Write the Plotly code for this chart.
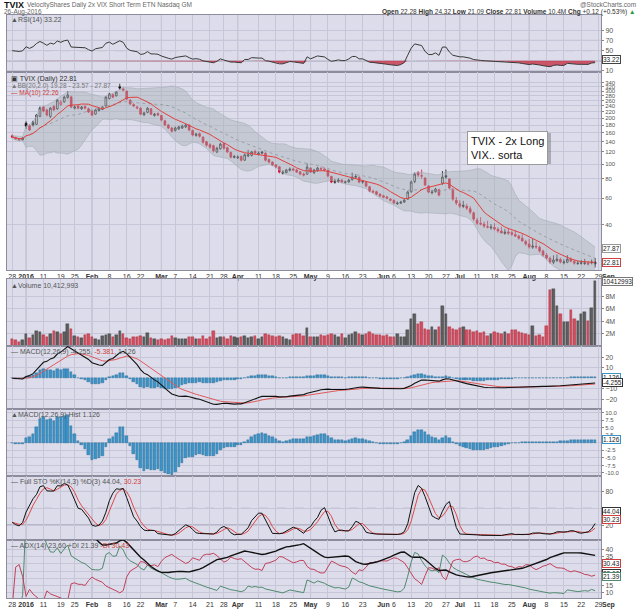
import numpy as np
import pandas as pd
import plotly.graph_objects as go

holidays = ["2016-01-01", "2016-01-18", "2016-02-15", "2016-03-25",
            "2016-05-30", "2016-07-04"]

# daily bars, 28 Dec 2015 .. 26 Aug 2016
opens = [153, 149, 146, 144,
         185, 178, 188, 182, 205, 236, 226, 205, 238, 230,
         245, 255, 272, 275, 232, 240, 230, 238, 230, 222,
         212, 224, 228, 240, 268, 284, 280, 320, 310, 300,
         262, 245, 232, 232, 210, 218, 230, 208, 214, 208,
         192, 180, 172, 166, 170, 172, 175, 180, 166, 154,
         158, 150, 140, 134, 132, 120, 126, 136, 128, 119,
         112, 110, 112, 106, 113, 114, 121, 116, 120, 118,
         107, 103, 99, 96, 87, 88, 91, 93, 91.5, 89,
         86, 86, 94, 88, 91, 93.5, 93, 91, 83, 76,
         77, 78.5, 76, 76.5, 79, 83, 82, 77, 76, 71,
         66.5, 66, 63.5, 62, 61, 59, 58, 55, 55.5, 56.5,
         59, 66, 77, 88, 84, 81, 72, 65, 66, 68,
         75, 84, 80, 68, 58, 55, 53.8, 53, 51, 48,
         43, 41, 40.5, 39, 38.3, 38.5, 37.5, 36.5, 35.2, 36,
         35.6, 34.6, 33.8, 32.8, 31.2, 30, 28.6, 29, 28.6, 27,
         25.4, 24.2, 22.8, 23.4, 23.8, 22.6, 22.8, 23.9, 23.1, 22.4,
         22.6, 22.4, 22.6, 22.9, 22.28]
highs = [156, 151, 148, 150,
         190, 182, 192, 212, 238, 240, 230, 236, 244, 266,
         262, 280, 300, 280, 242, 244, 240, 242, 234, 225,
         230, 233, 240, 278, 292, 290, 300, 335, 318, 302,
         266, 250, 240, 235, 220, 236, 232, 216, 218, 210,
         195, 183, 175, 176, 178, 181, 184, 182, 168, 160,
         161, 152, 142, 137, 134, 130, 138, 138, 130, 121,
         115, 114, 114, 117, 124, 122, 124, 121, 122, 119,
         109, 104, 100, 97, 91, 93, 95, 95, 93, 90,
         88, 101, 95.5, 93, 96, 96, 95, 92, 84, 80,
         81, 80, 78, 80, 88, 86, 83, 78.5, 77, 72,
         68, 67, 64.5, 63, 62, 60, 58.8, 57, 57.5, 59.5,
         67, 78, 88, 90, 92, 82, 73, 68, 70, 69,
         90, 92, 81, 70, 61, 58, 57.5, 55, 53, 49,
         44.5, 45, 42, 42.6, 40.5, 41, 38.6, 39, 37.6, 38.2,
         36.5, 37, 34.6, 35, 32, 32.4, 32.8, 31.2, 29.3, 27.6,
         26.2, 24.8, 25.3, 25.6, 24.4, 23.8, 25.4, 24.6, 23.7, 23.3,
         23.6, 24.0, 23.1, 23.8, 24.32]
lows = [148, 144, 142, 143,
        170, 165, 176, 180, 203, 218, 205, 200, 222, 226,
        240, 252, 268, 232, 228, 228, 226, 228, 216, 206,
        210, 220, 225, 238, 265, 270, 276, 305, 298, 262,
        244, 236, 228, 209, 206, 215, 209, 204, 206, 190,
        177, 169, 161, 163, 167, 170, 172, 164, 152, 151,
        149, 136, 130, 126, 119, 118, 124, 124, 118, 109,
        109, 108, 104, 105, 111, 112, 116, 114, 116, 104,
        101, 97, 94, 87, 85.5, 87, 89.5, 90, 87.5, 84.5,
        83, 85, 87.5, 86, 89, 91, 89.5, 82, 75, 74.5,
        75.5, 75, 74.5, 75.5, 78, 80, 75, 74.5, 70.5, 65.5,
        64.5, 62.5, 60.8, 59.8, 58.9, 57, 54.8, 54.2, 54.8, 55.8,
        58.5, 65, 75, 82, 80, 72, 64.5, 63.5, 65, 61.5,
        73, 80, 68.5, 57.5, 54, 51.5, 51.5, 50, 47, 42.5,
        40, 39.8, 38.2, 38, 37.2, 36.8, 35.6, 35.4, 34.5, 34.4,
        33.9, 33.6, 32, 31.2, 29.3, 28, 27.9, 27.9, 26.4, 24.8,
        23.7, 22.3, 22.2, 22.9, 22.4, 22.1, 22.5, 22.8, 22, 21.9,
        22, 21.9, 21.7, 22.1, 21.09]
closes = [150, 146, 144, 148,
          177, 167, 180, 209, 232, 222, 209, 232, 226, 262,
          254, 274, 283, 236, 236, 232, 236, 232, 219, 209,
          226, 229, 236, 274, 287, 274, 296, 314, 305, 266,
          247, 240, 236, 212, 216, 232, 212, 212, 209, 194,
          180, 172, 164, 172, 175, 177, 180, 167, 155, 157,
          152, 139, 133, 129, 122, 127, 135, 127, 120, 111,
          111, 111, 106, 115, 115, 120, 118, 118, 118, 106,
          103, 98.5, 95.6, 88.6, 88.6, 91.4, 92.7, 91.4, 88.6, 86.0,
          84.7, 95.6, 88.6, 91.4, 94.2, 92.7, 91.4, 83.5, 76.3, 77.4,
          78.6, 76.3, 76.3, 78.6, 82.2, 82.2, 76.3, 76.3, 71.8, 66.6,
          65.6, 63.6, 61.8, 60.8, 59.9, 58.1, 55.6, 55.6, 56.4, 58.1,
          65.6, 76.3, 86.0, 84.7, 83.5, 72.9, 65.6, 65.6, 68.6, 62.7,
          82.2, 82.2, 69.7, 59.0, 55.6, 53.1, 53.1, 51.5, 48.5, 43.7,
          41.1, 40.5, 39.3, 38.7, 38.7, 37.6, 36.5, 35.4, 35.9, 35.4,
          34.8, 33.8, 32.8, 31.4, 30.0, 28.7, 29.1, 28.7, 27.0, 25.4,
          24.3, 22.9, 23.6, 23.9, 22.9, 22.9, 23.9, 23.2, 22.5, 22.5,
          22.5, 22.6, 22.2, 22.69, 22.81]
volume_m = [1.1, 0.9, 0.7, 1.0,
            2.0, 1.3, 1.7, 2.4, 2.2, 1.8, 1.5, 2.0, 2.4, 2.3,
            1.9, 2.3, 3.5, 2.8, 1.6, 1.4, 1.3, 1.8, 1.9, 1.4,
            1.2, 1.0, 1.6, 1.7, 1.9, 1.5, 1.8, 2.4, 1.9, 1.3,
            1.2, 1.4, 1.5, 1.6, 1.5, 2.1, 1.3, 1.2, 1.0, 1.1,
            1.0, 1.2, 1.6, 1.3, 1.1, 1.2, 1.1, 1.5, 1.4, 1.2,
            1.1, 1.6, 1.2, 1.4, 2.4, 1.3, 1.5, 1.4, 1.2, 1.6,
            1.5, 1.3, 1.5, 1.6, 1.3, 1.5, 1.6, 1.1, 1.4, 1.9,
            1.7, 1.6, 1.5, 1.6, 1.5, 1.2, 1.0, 1.7, 2.0, 2.0,
            1.6, 2.9, 1.5, 1.4, 1.5, 1.7, 1.6, 1.8, 1.9, 1.7,
            1.4, 1.9, 1.3, 1.8, 2.0, 2.2, 2.0, 1.7, 1.9, 2.3,
            2.0, 1.8, 1.8, 1.6, 1.7, 1.5, 1.5, 2.0, 1.4, 1.5,
            2.5, 4.3, 5.2, 3.6, 3.8, 2.7, 2.5, 3.0, 2.6, 3.0,
            6.5, 5.2, 3.1, 2.8, 2.6, 2.9, 3.1, 2.6, 2.5, 2.2,
            2.4, 2.1, 2.3, 1.6, 2.0, 2.2, 2.1, 2.0, 2.3, 1.9,
            2.5, 2.6, 2.3, 2.1, 2.0, 1.8, 3.3, 1.6, 1.7, 1.4,
            3.3, 9.0, 9.2, 6.5, 5.2, 3.8, 3.9, 5.8, 4.3, 4.0,
            5.1, 5.5, 4.1, 6.1, 10.41]

tick_dates = ["2015-12-28", "2016-01-04", "2016-01-11", "2016-01-19", "2016-01-25",
              "2016-02-01", "2016-02-08", "2016-02-16", "2016-02-22", "2016-03-01",
              "2016-03-07", "2016-03-14", "2016-03-21", "2016-03-28", "2016-04-01",
              "2016-04-11", "2016-04-18", "2016-04-25", "2016-05-02", "2016-05-09",
              "2016-05-16", "2016-05-23", "2016-06-01", "2016-06-06", "2016-06-13",
              "2016-06-20", "2016-06-27", "2016-07-01", "2016-07-11", "2016-07-18",
              "2016-07-25", "2016-08-01", "2016-08-08", "2016-08-15", "2016-08-22",
              "2016-08-29"]
tick_text = ["28", "2016", "11", "19", "25", "Feb", "8", "16", "22", "Mar",
             "7", "14", "21", "28", "Apr", "11", "18", "25", "May", "9",
             "16", "23", "Jun", "6", "13", "20", "27", "Jul", "11", "18",
             "25", "Aug", "8", "15", "22", "29"]
bold_ticks = ["2016", "Feb", "Mar", "Apr", "May", "Jun", "Jul", "Aug"]

price_ticks = [340, 320, 300, 280, 260, 240, 220, 200, 180, 160, 140, 120, 100, 80, 60, 40]

# ---- positions (trading-day index) ----
days = pd.bdate_range("2015-12-28", "2016-09-02", freq="C", holidays=holidays)
pos = {d.strftime("%Y-%m-%d"): i for i, d in enumerate(days)}
n = len(closes)
xs = np.arange(n)
tick_pos = [pos[d] for d in tick_dates]
tick_lab = ["<b>%s</b>" % t if t in bold_ticks else t for t in tick_text]
month_pos = [tick_pos[i] for i, t in enumerate(tick_text) if t in bold_ticks]
sep_pos = pos["2016-09-01"]
XR = [-1.5, 169.7]

o = pd.Series(opens, dtype=float)
h = pd.Series(highs, dtype=float)
l = pd.Series(lows, dtype=float)
c = pd.Series(closes, dtype=float)
prev = c.shift(1).fillna(o)
up_day = (c >= prev).values

# ---- indicators ----
ma10 = c.rolling(10, min_periods=1).mean()
sma20 = c.rolling(20, min_periods=1).mean()
sd20 = c.rolling(20, min_periods=2).std(ddof=0).bfill()
bb_up = sma20 + 2 * sd20
bb_lo = sma20 - 2 * sd20

# Wilder RSI, seeded with equal average gain/loss
dd = c.diff().fillna(0).values
seed = np.abs(dd[1:15]).mean() / 2
ag = al = seed
rsi = []
for v in dd:
    ag = (ag * 13 + max(v, 0)) / 14
    al = (al * 13 + max(-v, 0)) / 14
    rsi.append(100 - 100 / (1 + ag / al))
rsi = np.array(rsi)

ema12 = c.ewm(span=12, adjust=False).mean()
ema26 = c.ewm(span=26, adjust=False).mean()
macd = ema12 - ema26
signal = macd.ewm(span=9, adjust=False).mean()
hist = macd - signal

ll = l.rolling(14, min_periods=1).min()
hh = h.rolling(14, min_periods=1).max()
fast_k = 100 * (c - ll) / (hh - ll)
sto_k = fast_k.rolling(3, min_periods=1).mean()
sto_d = sto_k.rolling(3, min_periods=1).mean()

pc = c.shift(1)
tr = pd.concat([h - l, (h - pc).abs(), (l - pc).abs()], axis=1).max(axis=1)
upm = h.diff()
dnm = -l.diff()
pdm = pd.Series(np.where((upm > dnm) & (upm > 0), upm, 0.0))
ndm = pd.Series(np.where((dnm > upm) & (dnm > 0), dnm, 0.0))
atr = tr.ewm(alpha=1 / 14, adjust=True).mean()
pdi = 100 * pdm.ewm(alpha=1 / 14, adjust=True).mean() / atr
ndi = 100 * ndm.ewm(alpha=1 / 14, adjust=True).mean() / atr
dx = 100 * (pdi - ndi).abs() / (pdi + ndi)
adx = dx.ewm(alpha=1 / 14, adjust=True).mean()

# ---- layout helpers ----
def fy(ypx):
    return (598 - ypx) / 583.0

def fx(xpx):
    return (xpx - 7) / 594.0

def ax(k):
    return dict(xaxis="x" if k == 1 else "x%d" % k, yaxis="y" if k == 1 else "y%d" % k)

RED = "#d0112b"
GRID = "#c6c6d8"
BORDER = "#8c8c9c"
BG = "#dcdcea"
FONT = "Liberation Sans, Arial, sans-serif"

fig = go.Figure()

# RSI panel
fig.add_trace(go.Scatter(x=xs, y=[30] * n, mode="lines", line=dict(width=0),
                         hoverinfo="skip", showlegend=False, **ax(1)))
fig.add_trace(go.Scatter(x=xs, y=np.minimum(rsi, 30), mode="lines", line=dict(width=0),
                         fill="tonexty", fillcolor="rgba(200,40,60,0.75)",
                         hoverinfo="skip", showlegend=False, **ax(1)))
fig.add_trace(go.Scatter(x=xs, y=rsi, mode="lines", line=dict(color="#3a3a3a", width=1),
                         showlegend=False, **ax(1)))

# price panel
fig.add_trace(go.Scatter(x=xs, y=bb_lo, mode="lines", line=dict(color="#a5adb5", width=0.6),
                         showlegend=False, **ax(2)))
fig.add_trace(go.Scatter(x=xs, y=bb_up, mode="lines", line=dict(color="#a5adb5", width=0.6),
                         fill="tonexty", fillcolor="rgba(168,178,184,0.45)",
                         showlegend=False, **ax(2)))
fig.add_trace(go.Scatter(x=xs, y=sma20, mode="lines", line=dict(color="#8e969e", width=0.8, dash="dot"),
                         showlegend=False, **ax(2)))
fig.add_trace(go.Scatter(x=xs, y=ma10, mode="lines", line=dict(color="#e0403e", width=1),
                         showlegend=False, **ax(2)))

for mask, col in ((up_day, "#111111"), (~up_day, RED)):
    fig.add_trace(go.Candlestick(
        x=xs[mask], open=o[mask], high=h[mask], low=l[mask], close=c[mask],
        increasing=dict(line=dict(color=col, width=0.8), fillcolor="#f6f6fa"),
        decreasing=dict(line=dict(color=col, width=0.8), fillcolor=col),
        whiskerwidth=0, showlegend=False, **ax(2)))

# volume
vol_col = np.where(up_day, "#5e5e5e", "#d24d5e")
vol_line = np.where(up_day, "#3a3a3a", "#a52a3a")
fig.add_trace(go.Bar(x=xs, y=volume_m, width=0.72,
                     marker=dict(color=vol_col, line=dict(color=vol_line, width=0.4)),
                     showlegend=False, **ax(3)))

# MACD
for k in (4, 5):
    fig.add_trace(go.Bar(x=xs, y=hist, width=0.72,
                         marker=dict(color="#3b93c8", line=dict(color="#23668f", width=0.4)),
                         showlegend=False, **ax(k)))
fig.add_trace(go.Scatter(x=xs, y=signal, mode="lines", line=dict(color="#e25a5a", width=1),
                         showlegend=False, **ax(4)))
fig.add_trace(go.Scatter(x=xs, y=macd, mode="lines", line=dict(color="#111111", width=1.1),
                         showlegend=False, **ax(4)))

# Full STO
fig.add_trace(go.Scatter(x=xs, y=sto_d, mode="lines", line=dict(color="#e04848", width=1),
                         showlegend=False, **ax(6)))
fig.add_trace(go.Scatter(x=xs, y=sto_k, mode="lines", line=dict(color="#111111", width=1),
                         showlegend=False, **ax(6)))

# ADX
fig.add_trace(go.Scatter(x=xs, y=pdi, mode="lines", line=dict(color="#4f8a6e", width=1),
                         showlegend=False, **ax(7)))
fig.add_trace(go.Scatter(x=xs, y=ndi, mode="lines", line=dict(color="#c2405a", width=1),
                         showlegend=False, **ax(7)))
fig.add_trace(go.Scatter(x=xs, y=adx, mode="lines", line=dict(color="#111111", width=1.4),
                         showlegend=False, **ax(7)))

# ---- axes ----
doms = {1: [fy(72), 1.0], 2: [fy(270), fy(72)], 3: [fy(346), fy(279)],
        4: [fy(409), fy(346)], 5: [fy(476), fy(409)], 6: [fy(540), fy(476)],
        7: [0.0, fy(540)]}
yspec = {
    1: dict(range=[8, 120], tickvals=[10, 30, 50, 70, 90],
            ticktext=["10", "", "50", "70", "90"]),
    2: dict(type="log", range=[np.log10(20.3), np.log10(400)], tickvals=price_ticks,
            tickfont=dict(size=6, color="#555")),
    3: dict(range=[0, 10.8], tickvals=[2, 4, 6, 8], ticktext=["2M", "4M", "6M", "8M"]),
    4: dict(range=[-29.5, 31], tickvals=[-20, -10, 10, 20]),
    5: dict(range=[-11, 11.2], tickvals=[-10, -7.5, -5, -2.5, 0, 2.5, 5, 7.5, 10],
            ticktext=["-10.0", "-7.5", "-5.0", "-2.5", "", "2.5", "5.0", "7.5", "10.0"],
            tickfont=dict(size=6, color="#555")),
    6: dict(range=[-6.5, 107.6], tickvals=[20, 50, 80], ticktext=["20", "", "80"]),
    7: dict(range=[6.4, 46.4], tickvals=[10, 15, 20, 25, 30, 35, 40],
            ticktext=["10", "15", "", "", "", "35", "40"]),
}

layout = dict(
    width=640, height=614, margin=dict(l=7, r=39, t=15, b=16),
    paper_bgcolor="white", plot_bgcolor=BG, template="none",
    font=dict(family=FONT, size=7, color="#444"), hovermode=False,
    showlegend=False, bargap=0,
)
for k in range(1, 8):
    xname = "xaxis" if k == 1 else "xaxis%d" % k
    yid = "y" if k == 1 else "y%d" % k
    xid = "x" if k == 1 else "x%d" % k
    layout[xname] = dict(
        domain=[0, 1], anchor=yid, range=XR, tickmode="array",
        tickvals=tick_pos, ticktext=tick_lab, showticklabels=k in (2, 7),
        tickfont=dict(size=7, color="#333"), ticks="", showgrid=True,
        gridcolor=GRID, gridwidth=0.6, showline=True, mirror=True,
        linecolor=BORDER, linewidth=1, zeroline=False, fixedrange=True,
        rangeslider=dict(visible=False),
    )
    ys = dict(
        domain=doms[k], anchor=xid, side="right", tickmode="array",
        ticks="outside", ticklen=2, tickcolor="#888",
        tickfont=dict(size=7, color="#555"), showgrid=True, gridcolor=GRID,
        gridwidth=0.6, zeroline=False, showline=True, mirror=True,
        linecolor=BORDER, linewidth=1, fixedrange=True,
    )
    ys.update(yspec[k])
    layout["yaxis" if k == 1 else "yaxis%d" % k] = ys

fig.update_layout(**layout)

# ---- shapes ----
shapes = []
for k in range(1, 8):
    xid = "x" if k == 1 else "x%d" % k
    yid = "y" if k == 1 else "y%d" % k
    for mp in month_pos:
        shapes.append(dict(type="line", xref=xid, yref=yid + " domain", x0=mp, x1=mp,
                           y0=0, y1=1, line=dict(color="#a9a9bd", width=0.8), layer="below"))
for k, levels in ((1, (70, 30)), (6, (80, 20))):
    xid = "x" if k == 1 else "x%d" % k
    yid = "y" if k == 1 else "y%d" % k
    for lv in levels:
        shapes.append(dict(type="line", xref=xid + " domain", yref=yid, x0=0, x1=1,
                           y0=lv, y1=lv, line=dict(color="#77778a", width=1), layer="below"))
    shapes.append(dict(type="line", xref=xid + " domain", yref=yid, x0=0, x1=1,
                       y0=50, y1=50, line=dict(color="#8a8a9c", width=0.8, dash="dash"),
                       layer="below"))
# note box shadow
shapes.append(dict(type="rect", xref="paper", yref="paper", x0=fx(469), x1=fx(551),
                   y0=fy(164), y1=fy(133), fillcolor="rgba(110,110,120,0.45)",
                   line=dict(width=0), layer="above"))
fig.update_layout(shapes=shapes)

# ---- text ----
anns = []

def txt(xp, yp, s, size=7, color="#555", xanchor="left", **kw):
    anns.append(dict(xref="paper", yref="paper", x=fx(xp), y=fy(yp), text=s,
                     showarrow=False, xanchor=xanchor, yanchor="middle",
                     font=dict(size=size, color=color, family=FONT), **kw))

def vbox(k, val, s, color="#444", log=False):
    yid = "y" if k == 1 else "y%d" % k
    anns.append(dict(xref="paper", yref=yid, x=1.0, xshift=1, xanchor="left",
                     y=np.log10(val) if log else val, yanchor="middle", text=s,
                     showarrow=False, font=dict(size=6.5, color="#222", family=FONT),
                     bgcolor="white", bordercolor=color, borderwidth=1, borderpad=0))

txt(2, 5, "<b>TVIX</b>", size=9, color="#111")
txt(25, 5, "VelocityShares Daily 2x VIX Short Term ETN Nasdaq GM", size=6.5, color="#666")
txt(638, 4, "@StockCharts.com", size=6.5, color="#666", xanchor="right")
txt(2, 12, "26-Aug-2016", size=6.5, color="#666")
txt(638, 12, "<b>Open</b> 22.28 <b>High</b> 24.32 <b>Low</b> 21.09 <b>Close</b> 22.81 "
    "<b>Volume</b> 10.4M <b>Chg</b> +0.12 (+0.53%) <span style='color:#2a9a3a'>▲</span>",
    size=6.5, color="#333", xanchor="right")

txt(9, 20, "▲RSI(14) 33.22", size=7)
txt(9, 79, "▣ TVIX (Daily) 22.81", size=7, color="#333")
txt(9, 86, "▲BB(20,2.0) 19.28 - 23.57 - 27.87", size=6.5, color="#777")
txt(9, 93, "— MA(10) 22.26", size=6.5, color="#d04040")
txt(9, 285, "▲Volume 10,412,993", size=7)
txt(9, 352, "— MACD(12,26,9) -4.255, <span style='color:#d04040'>-5.381</span>, 1.126", size=7)
txt(9, 415, "▲MACD(12,26,9) Hist 1.126", size=7)
txt(9, 482, "— Full STO %K(14,3) %D(3) 44.04, <span style='color:#d04040'>30.23</span>", size=7)
txt(9, 546, "— ADX(14) 23.60 +DI 21.39 <span style='color:#d04040'>-DI 30.43</span>", size=7)

anns.append(dict(xref="paper", yref="paper", x=fx(467), y=fy(131), xanchor="left",
                 yanchor="top", text="TVIX - 2x Long<br>VIX.. sorta", align="left",
                 showarrow=False, font=dict(size=11, color="#111", family=FONT),
                 bgcolor="white", bordercolor="#9a9a9a", borderwidth=1, borderpad=3))

sep_x = (sep_pos - XR[0]) / (XR[1] - XR[0])
for yp in (277, 605):
    anns.append(dict(xref="paper", yref="paper", x=sep_x, y=fy(yp), text="<b>Sep</b>",
                     showarrow=False, xanchor="center", yanchor="middle",
                     font=dict(size=7, color="#333", family=FONT)))

vbox(1, 33.22, "33.22")
vbox(2, 27.87, "27.87", color="#999", log=True)
vbox(2, 22.81, "22.81", color="#d04040", log=True)
vbox(3, 10.41, "10412993", color="#777")
vbox(4, 1.126, "1.126", color="#3b93c8")
vbox(4, -4.255, "-4.255", color="#333")
vbox(5, 1.126, "1.126", color="#3b93c8")
vbox(6, 44.04, "44.04", color="#333")
vbox(6, 30.23, "30.23", color="#d04040")
vbox(7, 30.43, "30.43", color="#d04040")
vbox(7, 23.60, "23.60", color="#333")
vbox(7, 21.39, "21.39", color="#4f8a6e")

fig.update_layout(annotations=anns)
fig.write_html("out.html", config={"displayModeBar": False},
               post_script="document.body.style.margin='0px';")
